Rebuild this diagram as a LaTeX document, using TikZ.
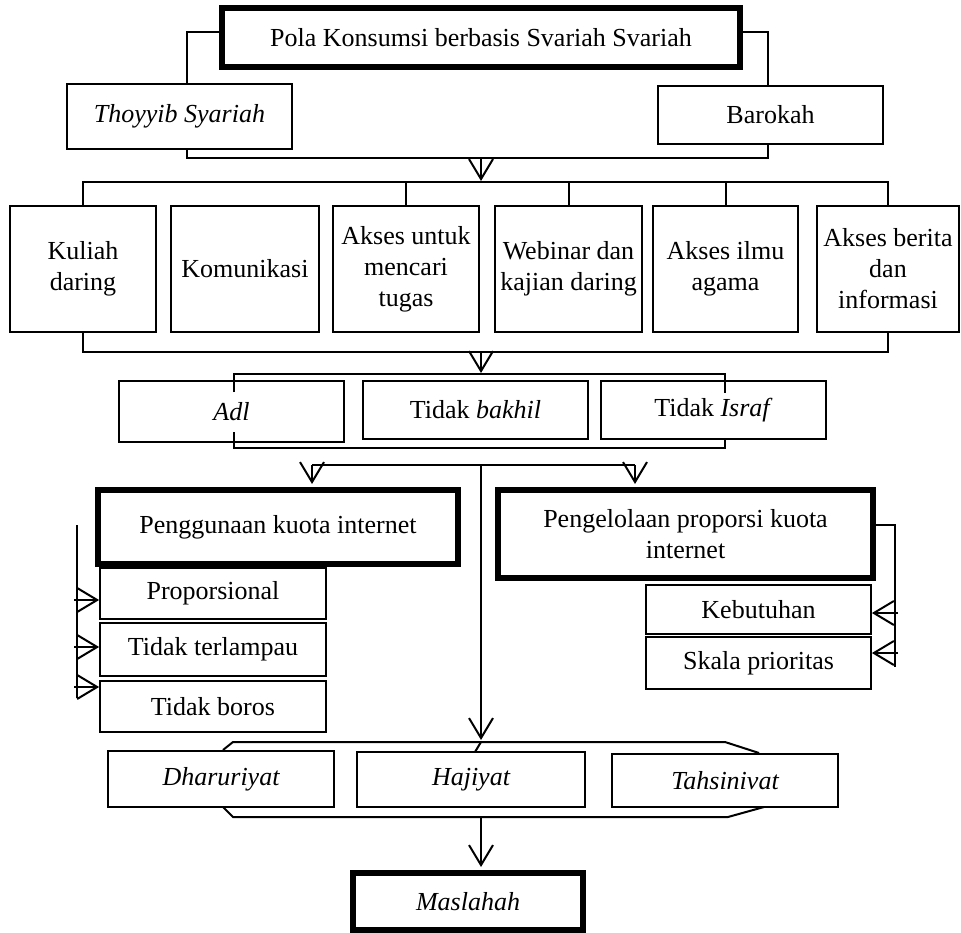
\documentclass[tikz,border=0pt]{standalone}
\usepackage{fontspec}
\setmainfont{Liberation Serif}
\usetikzlibrary{arrows.meta}
\begin{document}
\begin{tikzpicture}[x=1pt,y=-1pt,
  box/.style={draw, line width=1.8pt, fill=white, inner sep=0pt, align=center,
    font=\fontsize{26}{31}\selectfont},
  tbox/.style={box, line width=6pt},
  ln/.style={line width=2pt},
  arr/.style={ln, -{Straight Barb[length=20pt,width=24pt,line width=2pt]}}]
\fill[white] (0,0) rectangle (961,933);
\useasboundingbox (0,0) rectangle (961,933);

% top
\node[tbox, minimum width=518pt, minimum height=59pt] (title) at (481,37.5) {Pola Konsumsi berbasis Svariah Svariah};
\node[box, minimum width=225pt, minimum height=65pt] (thoyyib) at (179.5,116.5) {\itshape Thoyyib Syariah};
\node[box, minimum width=225pt, minimum height=58pt] (barokah) at (770.5,115) {Barokah};

\draw[ln] ([yshift=5.5pt]title.west) -| ([xshift=7.5pt]thoyyib.north);
\draw[ln] ([yshift=5.5pt]title.east) -| ([xshift=-2.5pt]barokah.north);
\coordinate (b1l) at (187,158);
\coordinate (b1r) at (768,158);
\coordinate (b1m) at (481,158);
\draw[ln] ([xshift=7.5pt]thoyyib.south) -- (b1l) -- (b1r) -- ([xshift=-2.5pt]barokah.south);

% row 2
\node[box, minimum width=146pt, minimum height=126pt] (kuliah) at (83,269) {Kuliah\\daring};
\node[box, minimum width=148pt, minimum height=126pt] (komunikasi) at (245,269) {Komunikasi};
\node[box, minimum width=146pt, minimum height=126pt] (akses) at (406,269) {Akses untuk\\mencari\\tugas};
\node[box, minimum width=147pt, minimum height=126pt] (webinar) at (568.5,269) {Webinar dan\\kajian daring};
\node[box, minimum width=145pt, minimum height=126pt] (ilmu) at (725.5,269) {Akses ilmu\\agama};
\node[box, minimum width=142pt, minimum height=126pt] (berita) at (888,269) {Akses berita\\dan\\informasi};

\coordinate (t2l) at (83,182);
\coordinate (t2r) at (888,182);
\coordinate (t2m) at (481,181);
\draw[arr] (b1m) -- (t2m);
\draw[ln] (kuliah.north) -- (t2l) -- (t2r) -- (berita.north);
\draw[ln] (akses.north) -- (akses.north |- t2l);
\draw[ln] (webinar.north) -- (webinar.north |- t2l);
\draw[ln] (ilmu.north) -- (ilmu.north |- t2l);

\coordinate (b2l) at (83,352);
\coordinate (b2r) at (888,352);
\coordinate (b2m) at (481,352);
\draw[ln] (kuliah.south) -- (b2l) -- (b2r) -- (berita.south);

% row 3
\node[box, minimum width=225pt, minimum height=61pt] (adl) at (231.5,411.5) {\itshape Adl};
\node[box, minimum width=225pt, minimum height=58pt] (bakhil) at (475.5,410) {Tidak \textit{bakhil}};
\node[box, minimum width=225pt, minimum height=58pt] (israf) at (713.5,410) {Tidak \textit{Israf}};
\coordinate (t3m) at (481,373);
\draw[arr] (b2m) -- (t3m);

\coordinate (c3a) at (234,392);
\coordinate (c3b) at (234,374);
\coordinate (c3c) at (725,374);
\coordinate (c3d) at (725,393);
\draw[ln] (c3a) -- (c3b) -- (c3c) -- (c3d);
\coordinate (c3e) at (234,432);
\coordinate (c3f) at (234,448);
\coordinate (c3g) at (725,448);
\draw[ln] (c3e) -- (c3f) -- (c3g) -- (israf.south -| c3g);

% split
\node[tbox, minimum width=360pt, minimum height=74pt] (guna) at (278,527) {Penggunaan kuota internet};
\node[tbox, minimum width=375pt, minimum height=88pt] (kelola) at (685.5,534) {Pengelolaan proporsi kuota\\internet};
\coordinate (sl) at (312,465);
\coordinate (sr) at (635,465);
\coordinate (sm) at (481,465);
\draw[ln] (sl) -- (sr);
\draw[arr] (sl) -- ([xshift=34pt,yshift=3pt]guna.north);
\draw[arr] (sr) -- ([xshift=-50.5pt,yshift=3pt]kelola.north);

% left sub-boxes
\node[box, minimum width=226pt, minimum height=51pt] (prop) at (213,593.5) {Proporsional};
\node[box, minimum width=226pt, minimum height=53pt] (lampau) at (213,649.5) {Tidak terlampau};
\node[box, minimum width=226pt, minimum height=51pt] (boros) at (213,706.5) {Tidak boros};
\coordinate (lt) at (77,525);
\coordinate (lb) at (77,698);
\draw[ln] (lt) -- (lb);
\draw[arr] (74,600) -- ([yshift=-6.5pt]prop.west);
\draw[arr] (74,647) -- ([yshift=2.5pt]lampau.west);
\draw[arr] (74,687) -- ([yshift=19.5pt]boros.west);

% right sub-boxes
\node[box, minimum width=225pt, minimum height=49pt] (butuh) at (758.5,609.5) {Kebutuhan};
\node[box, minimum width=225pt, minimum height=52pt] (skala) at (758.5,663) {Skala prioritas};
\coordinate (rt) at (895,525);
\coordinate (rb) at (895,667);
\draw[ln] ([yshift=9pt]kelola.east) -- (rt) -- (rb);
\draw[arr] (898,613) -- ([yshift=-3.5pt]butuh.east);
\draw[arr] (898,653) -- ([yshift=10pt]skala.east);

% bottom row
\node[box, minimum width=226pt, minimum height=56pt] (dhar) at (221,779) {\itshape Dharuriyat};
\node[box, minimum width=228pt, minimum height=55pt] (haji) at (471,779.5) {\itshape Hajiyat};
\node[box, minimum width=226pt, minimum height=53pt] (tahs) at (725,780.5) {\itshape Tahsinivat};
\coordinate (hm) at (481,740);
\draw[arr] (sm) -- (hm);
\draw[ln] (223,750) -- (233,742) -- (725,742) -- (759,753);
\draw[ln] (223,807) -- (233,817) -- (728,817) -- (764,807);
\draw[ln] (481,742) -- (475,752);
\coordinate (hb) at (481,817);

\node[tbox, minimum width=230pt, minimum height=57pt] (mas) at (468,901.5) {\itshape Maslahah};
\draw[arr] (hb) -- ([xshift=13pt,yshift=3pt]mas.north);
\end{tikzpicture}
\end{document}
